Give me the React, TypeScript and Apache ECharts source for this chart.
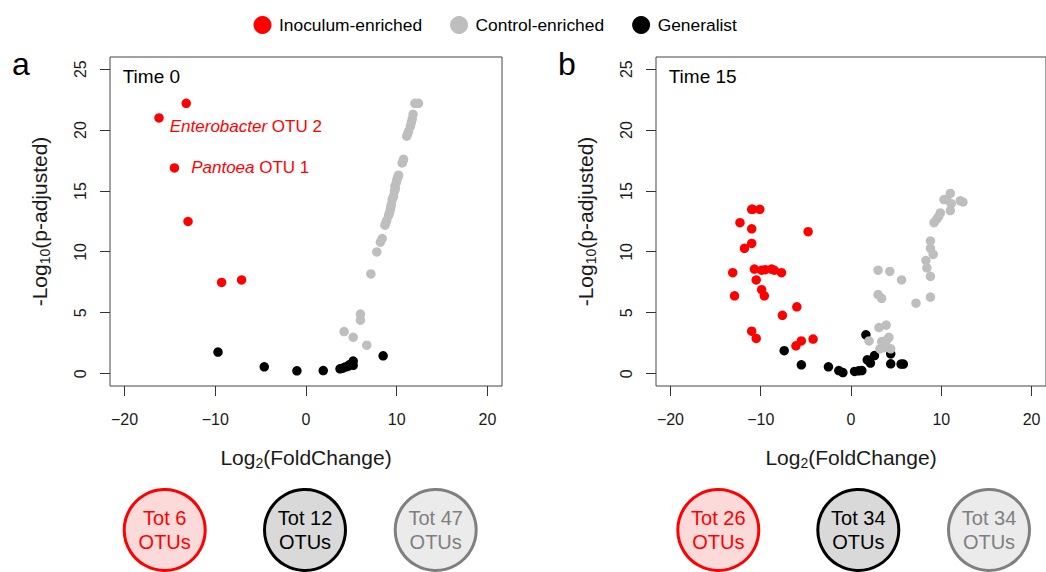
import { useEffect, useRef } from 'react';
import * as echarts from 'echarts';

const FONT = '"Liberation Sans", Arial, Helvetica, sans-serif';

const xTicks = [-20, -10, 0, 10, 20];
const yTicks = [0, 5, 10, 15, 20, 25];
const groupNames = ['Inoculum-enriched', 'Control-enriched', 'Generalist'];
const groupColors = ['#ff0000', '#bebebe', '#000000'];
const panelTitles = ['Time 0', 'Time 15'];
const panelLetters = ['a', 'b'];

// Time 0
const t0Inoculum = [
  [-13.2, 22.2], [-16.2, 21.0], [-14.5, 16.9], [-13.0, 12.5], [-9.3, 7.5], [-7.1, 7.7],
];
const t0Labels = [
  { index: 1, genus: 'Enterobacter', otu: 'OTU 2' },
  { index: 2, genus: 'Pantoea', otu: 'OTU 1' },
];
const t0Generalist = [
  [-9.7, 1.78], [-4.6, 0.57], [-1.0, 0.25], [1.9, 0.27], [3.75, 0.41], [4.0, 0.45],
  [4.3, 0.55], [4.6, 0.6], [4.8, 0.75], [5.2, 1.05], [5.2, 0.7], [8.5, 1.48],
];
const t0Control = [
  [4.2, 3.47], [5.2, 3.0], [6.7, 2.35], [6.0, 4.9], [6.0, 4.4], [7.15, 8.2], [7.8, 10.0],
  [8.2, 10.8], [8.4, 11.1], [8.7, 12.2], [8.8, 12.4], [8.9, 12.6], [9.1, 13.0], [9.2, 13.2],
  [9.3, 13.5], [9.35, 13.7], [9.4, 13.9], [9.5, 14.3], [9.6, 14.45], [9.65, 14.6], [9.75, 15.0],
  [9.8, 15.4], [9.85, 15.2], [9.95, 15.7], [10.0, 15.9], [10.1, 16.1], [10.15, 16.2], [10.2, 16.3],
  [10.6, 17.3], [10.65, 17.4], [10.75, 17.6], [11.1, 19.5], [11.2, 19.7], [11.3, 19.9],
  [11.5, 20.3], [11.6, 20.6], [11.7, 20.9], [11.8, 21.3], [12.0, 22.2], [12.4, 22.2],
];
const t0Totals = [6, 12, 47];

// Time 15
const t15Inoculum = [
  [-11.0, 13.5], [-10.1, 13.5], [-10.9, 13.5], [-12.3, 12.4], [-11.0, 11.9], [-4.75, 11.66],
  [-11.0, 10.7], [-11.8, 10.3], [-10.7, 8.6], [-9.9, 8.5], [-9.5, 8.55], [-8.8, 8.6], [-8.5, 8.5],
  [-7.7, 8.3], [-13.1, 8.3], [-10.5, 7.7], [-9.9, 6.9], [-9.6, 6.4], [-12.9, 6.4], [-6.0, 5.5],
  [-7.6, 4.8], [-11.0, 3.5], [-10.5, 2.9], [-6.1, 2.3], [-5.5, 2.7], [-4.2, 2.85],
];
const t15Generalist = [
  [-7.4, 1.9], [-5.5, 0.74], [-2.5, 0.57], [-1.35, 0.27], [-0.9, 0.1], [0.4, 0.2], [0.85, 0.25],
  [1.2, 0.27], [1.65, 3.2], [1.8, 1.15], [2.15, 0.88], [2.6, 1.5], [4.4, 1.64], [4.4, 0.82],
  [5.55, 0.8], [5.8, 0.8],
];
const t15Control = [
  [3.0, 8.5], [4.3, 8.4], [5.6, 7.7], [3.0, 6.5], [3.4, 6.2], [7.2, 5.8], [8.8, 6.3], [8.3, 9.3],
  [8.4, 8.7], [8.8, 10.9], [8.8, 10.3], [9.1, 9.8], [8.8, 8.0], [9.2, 12.4], [9.5, 12.7],
  [9.7, 12.9], [9.9, 13.2], [10.3, 14.3], [10.6, 14.3], [11.0, 14.8], [11.0, 13.4], [11.1, 13.96],
  [12.1, 14.2], [12.4, 14.1], [3.1, 3.8], [3.9, 4.0], [2.0, 2.7], [3.4, 2.65], [4.0, 2.8],
  [4.2, 3.0], [3.6, 2.15], [3.2, 2.05], [4.4, 2.05], [3.8, 2.5],
];
const t15Totals = [26, 34, 34];

const panels = [
  { inoculum: t0Inoculum, control: t0Control, generalist: t0Generalist, labels: t0Labels, totals: t0Totals },
  { inoculum: t15Inoculum, control: t15Control, generalist: t15Generalist, labels: [] as typeof t0Labels, totals: t15Totals },
];

const X_MIN = -21.6;
const X_MAX = 21.6;
const Y_MIN = -1;
const Y_MAX = 26;
const TICK_LEN = 10;

const gridLefts = [110, 656];
const circleCenters = [
  [164.7, 305, 435.7],
  [718.3, 858.3, 989],
];
const circleStyles = [
  { fill: '#fcdada', stroke: '#ff0000', text: '#ff0000' },
  { fill: '#d9d9d9', stroke: '#000000', text: '#000000' },
  { fill: '#ebebeb', stroke: '#7f7f7f', text: '#7f7f7f' },
];

const labelSettings = [
  { distance: 6, offset: [0, 9] },
  { distance: 12, offset: [0, 0] },
];

const mkName = () => ({
  fontSize: 21,
  fontFamily: FONT,
  color: '#1a1a1a',
  lineHeight: 26,
  rich: {
    sub: { fontSize: 14, fontFamily: FONT, color: '#1a1a1a', lineHeight: 26, verticalAlign: 'bottom' },
  },
});

function buildGraphic(tickLines: any[]) {
  const graphic: any[] = [];
  panels.forEach((p, i) => {
    p.totals.forEach((n, k) => {
      const cx = circleCenters[i][k];
      const cy = 530;
      const s = circleStyles[k];
      graphic.push({
        type: 'circle',
        shape: { cx, cy, r: 40.5 },
        style: { fill: s.fill, stroke: s.stroke, lineWidth: 3 },
        silent: true,
      });
      graphic.push({
        type: 'text',
        x: cx,
        y: cy,
        style: {
          text: `Tot ${n}\nOTUs`,
          fill: s.text,
          fontSize: 20,
          fontFamily: FONT,
          align: 'center',
          verticalAlign: 'middle',
          lineHeight: 23.5,
        },
        silent: true,
      });
    });
  });
  return graphic.concat(tickLines);
}

function buildOption() {
  const grid = gridLefts.map((left) => ({
    left,
    top: 57,
    width: 392,
    height: 329,
    show: true,
    borderColor: '#444',
    borderWidth: 1,
  }));

  const xAxis = gridLefts.map((_, i) => ({
    gridIndex: i,
    type: 'value',
    min: X_MIN,
    max: X_MAX,
    axisLine: { show: false, onZero: false },
    splitLine: { show: false },
    axisTick: { show: false },
    axisLabel: {
      customValues: xTicks,
      margin: 25,
      fontSize: 16,
      fontFamily: FONT,
      color: '#1a1a1a',
      formatter: (v: number) => String(v).replace('-', '\u2212'),
    },
    name: 'Log{sub|2}(FoldChange)',
    nameLocation: 'middle',
    nameGap: 58,
    nameTextStyle: mkName(),
  }));

  const yAxis = gridLefts.map((_, i) => ({
    gridIndex: i,
    type: 'value',
    min: Y_MIN,
    max: Y_MAX,
    axisLine: { show: false, onZero: false },
    splitLine: { show: false },
    axisTick: { show: false },
    axisLabel: {
      customValues: yTicks,
      rotate: 90,
      margin: 22,
      fontSize: 16,
      fontFamily: FONT,
      color: '#1a1a1a',
    },
    name: '-Log{sub|10}(p-adjusted)',
    nameLocation: 'middle',
    nameRotate: 90,
    nameGap: 58,
    nameTextStyle: mkName(),
  }));

  const series: any[] = [];
  panels.forEach((p, i) => {
    const common = {
      type: 'scatter',
      xAxisIndex: i,
      yAxisIndex: i,
      symbol: 'circle',
      symbolSize: 9.5,
      emphasis: { disabled: true },
    };
    series.push({
      ...common,
      name: groupNames[2],
      itemStyle: { color: groupColors[2], opacity: 1 },
      data: p.generalist,
    });
    const redData = p.inoculum.map((pt, j) => {
      const lbIdx = p.labels.findIndex((l) => l.index === j);
      if (lbIdx < 0) return pt;
      const lb = p.labels[lbIdx];
      const st = labelSettings[lbIdx];
      return {
        value: pt,
        label: {
          show: true,
          position: 'right',
          distance: st.distance,
          offset: st.offset,
          formatter: `{i|${lb.genus}} ${lb.otu}`,
          fontSize: 17,
          fontFamily: FONT,
          color: '#ff0000',
          rich: { i: { fontStyle: 'italic', fontSize: 17, fontFamily: FONT, color: '#ff0000' } },
        },
      };
    });
    series.push({
      ...common,
      name: groupNames[0],
      itemStyle: { color: groupColors[0], opacity: 1 },
      data: redData,
    });
    series.push({
      ...common,
      name: groupNames[1],
      itemStyle: { color: groupColors[1], opacity: 1 },
      data: p.control,
    });
  });

  const title = [
    ...panelTitles.map((t, i) => ({
      text: t,
      left: gridLefts[i] + 12.7,
      top: 67,
      padding: 0,
      textStyle: { fontSize: 19, fontWeight: 'normal', fontFamily: FONT, color: '#000' },
    })),
    ...panelLetters.map((t, i) => ({
      text: t,
      left: i === 0 ? 12 : 558,
      top: 48,
      padding: 0,
      textStyle: { fontSize: 32, fontWeight: 'normal', fontFamily: FONT, color: '#000' },
    })),
  ];

  return {
    animation: false,
    title,
    legend: {
      data: groupNames,
      left: 253.5,
      top: 16,
      padding: 0,
      icon: 'circle',
      itemWidth: 23,
      itemHeight: 18,
      itemGap: 28,
      selectedMode: false,
      itemStyle: { opacity: 1 },
      textStyle: { fontSize: 17.4, fontFamily: FONT, color: '#000' },
    },
    grid,
    xAxis,
    yAxis,
    series,
    graphic: buildGraphic([]),
  };
}

// Tick marks placed through the axes' own scales (convertToPixel).
function buildTickLines(chart: echarts.ECharts) {
  const lines: any[] = [];
  const crisp = (v: number) => Math.round(v - 0.5) + 0.5;
  panels.forEach((_, i) => {
    const yBottom = chart.convertToPixel({ yAxisIndex: i }, Y_MIN) as number;
    const xLeft = chart.convertToPixel({ xAxisIndex: i }, X_MIN) as number;
    if (typeof yBottom !== 'number' || typeof xLeft !== 'number') return;
    xTicks.forEach((v) => {
      const px = chart.convertToPixel({ xAxisIndex: i }, v) as number;
      if (typeof px !== 'number' || isNaN(px)) return;
      const x = crisp(px);
      lines.push({
        type: 'line',
        shape: { x1: x, y1: yBottom, x2: x, y2: yBottom + TICK_LEN },
        style: { stroke: '#333', lineWidth: 1 },
        silent: true,
      });
    });
    yTicks.forEach((v) => {
      const py = chart.convertToPixel({ yAxisIndex: i }, v) as number;
      if (typeof py !== 'number' || isNaN(py)) return;
      const y = crisp(py);
      lines.push({
        type: 'line',
        shape: { x1: xLeft - TICK_LEN, y1: y, x2: xLeft, y2: y },
        style: { stroke: '#333', lineWidth: 1 },
        silent: true,
      });
    });
  });
  return lines;
}

export default function App() {
  const ref = useRef<HTMLDivElement>(null);
  useEffect(() => {
    if (!ref.current) return;
    const chart = echarts.init(ref.current, undefined, { renderer: 'svg' });
    chart.setOption(buildOption() as any);
    try {
      const ticks = buildTickLines(chart);
      if (ticks.length) {
        chart.setOption({ graphic: buildGraphic(ticks) } as any);
      }
    } catch (e) {
      // keep chart without extra tick marks
    }
    return () => chart.dispose();
  }, []);
  return (
    <div
      ref={ref}
      style={{ position: 'absolute', left: 0, top: 0, width: 1046, height: 572 }}
    />
  );
}
